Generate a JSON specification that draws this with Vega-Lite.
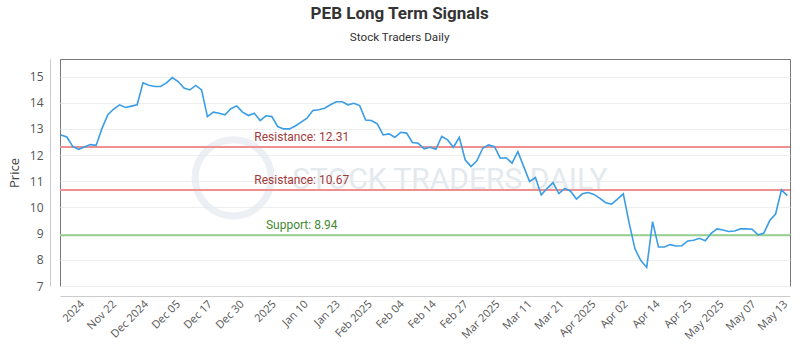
{
  "$schema": "https://vega.github.io/schema/vega-lite/v6.json",
  "width": 730,
  "height": 227,
  "autosize": {"type": "none"},
  "padding": {"left": 60, "top": 59, "right": 10, "bottom": 64},
  "title": {
    "text": "PEB Long Term Signals",
    "subtitle": "Stock Traders Daily",
    "anchor": "middle",
    "frame": "bounds",
    "font": "Roboto",
    "fontSize": 17,
    "fontWeight": "bold",
    "color": "#333333",
    "subtitleFont": "Roboto",
    "subtitleFontSize": 11.7,
    "subtitleColor": "#333333",
    "subtitlePadding": 9,
    "offset": 14
  },
  "datasets": {
    "prices": [
      {"i": 0, "price": 12.77}, {"i": 1, "price": 12.69}, {"i": 2, "price": 12.33}, {"i": 3, "price": 12.22},
      {"i": 4, "price": 12.31}, {"i": 5, "price": 12.40}, {"i": 6, "price": 12.37}, {"i": 7, "price": 13.02},
      {"i": 8, "price": 13.54}, {"i": 9, "price": 13.76}, {"i": 10, "price": 13.92}, {"i": 11, "price": 13.82},
      {"i": 12, "price": 13.87}, {"i": 13, "price": 13.92}, {"i": 14, "price": 14.76}, {"i": 15, "price": 14.67},
      {"i": 16, "price": 14.62}, {"i": 17, "price": 14.62}, {"i": 18, "price": 14.76}, {"i": 19, "price": 14.96},
      {"i": 20, "price": 14.81}, {"i": 21, "price": 14.56}, {"i": 22, "price": 14.49}, {"i": 23, "price": 14.66},
      {"i": 24, "price": 14.49}, {"i": 25, "price": 13.47}, {"i": 26, "price": 13.64}, {"i": 27, "price": 13.60},
      {"i": 28, "price": 13.54}, {"i": 29, "price": 13.77}, {"i": 30, "price": 13.88}, {"i": 31, "price": 13.64},
      {"i": 32, "price": 13.51}, {"i": 33, "price": 13.60}, {"i": 34, "price": 13.32}, {"i": 35, "price": 13.50},
      {"i": 36, "price": 13.47}, {"i": 37, "price": 13.09}, {"i": 38, "price": 13.00}, {"i": 39, "price": 13.00},
      {"i": 40, "price": 13.11}, {"i": 41, "price": 13.26}, {"i": 42, "price": 13.41}, {"i": 43, "price": 13.70},
      {"i": 44, "price": 13.73}, {"i": 45, "price": 13.79}, {"i": 46, "price": 13.92}, {"i": 47, "price": 14.04},
      {"i": 48, "price": 14.04}, {"i": 49, "price": 13.92}, {"i": 50, "price": 13.98}, {"i": 51, "price": 13.89},
      {"i": 52, "price": 13.34}, {"i": 53, "price": 13.32}, {"i": 54, "price": 13.19}, {"i": 55, "price": 12.77},
      {"i": 56, "price": 12.81}, {"i": 57, "price": 12.68}, {"i": 58, "price": 12.87}, {"i": 59, "price": 12.84},
      {"i": 60, "price": 12.48}, {"i": 61, "price": 12.45}, {"i": 62, "price": 12.24}, {"i": 63, "price": 12.30},
      {"i": 64, "price": 12.22}, {"i": 65, "price": 12.71}, {"i": 66, "price": 12.58}, {"i": 67, "price": 12.30},
      {"i": 68, "price": 12.68}, {"i": 69, "price": 11.82}, {"i": 70, "price": 11.56}, {"i": 71, "price": 11.78},
      {"i": 72, "price": 12.26}, {"i": 73, "price": 12.39}, {"i": 74, "price": 12.32}, {"i": 75, "price": 11.88},
      {"i": 76, "price": 11.90}, {"i": 77, "price": 11.69}, {"i": 78, "price": 12.13}, {"i": 79, "price": 11.56},
      {"i": 80, "price": 10.99}, {"i": 81, "price": 11.14}, {"i": 82, "price": 10.48}, {"i": 83, "price": 10.73},
      {"i": 84, "price": 10.95}, {"i": 85, "price": 10.53}, {"i": 86, "price": 10.73}, {"i": 87, "price": 10.62},
      {"i": 88, "price": 10.32}, {"i": 89, "price": 10.52}, {"i": 90, "price": 10.57}, {"i": 91, "price": 10.50},
      {"i": 92, "price": 10.35}, {"i": 93, "price": 10.18}, {"i": 94, "price": 10.13}, {"i": 95, "price": 10.32},
      {"i": 96, "price": 10.52}, {"i": 97, "price": 9.40}, {"i": 98, "price": 8.41}, {"i": 99, "price": 7.97},
      {"i": 100, "price": 7.71}, {"i": 101, "price": 9.46}, {"i": 102, "price": 8.49}, {"i": 103, "price": 8.49},
      {"i": 104, "price": 8.58}, {"i": 105, "price": 8.53}, {"i": 106, "price": 8.54}, {"i": 107, "price": 8.72},
      {"i": 108, "price": 8.75}, {"i": 109, "price": 8.82}, {"i": 110, "price": 8.73}, {"i": 111, "price": 9.01},
      {"i": 112, "price": 9.18}, {"i": 113, "price": 9.14}, {"i": 114, "price": 9.08}, {"i": 115, "price": 9.10},
      {"i": 116, "price": 9.18}, {"i": 117, "price": 9.18}, {"i": 118, "price": 9.17}, {"i": 119, "price": 8.95},
      {"i": 120, "price": 9.02}, {"i": 121, "price": 9.50}, {"i": 122, "price": 9.75}, {"i": 123, "price": 10.67},
      {"i": 124, "price": 10.45}
    ],
    "levels": [
      {"level": 12.31, "label": "Resistance: 12.31", "kind": "Resistance"},
      {"level": 10.67, "label": "Resistance: 10.67", "kind": "Resistance"},
      {"level": 8.94, "label": "Support: 8.94", "kind": "Support"}
    ],
    "watermark": [
      {"label": "STOCK TRADERS DAILY"}
    ]
  },
  "resolve": {"axis": {"x": "independent", "y": "independent"}},
  "layer": [
    {
      "data": {"name": "watermark"},
      "mark": {"type": "point", "shape": "circle", "filled": false, "size": 5800, "stroke": "#e4eaf0", "strokeWidth": 7},
      "encoding": {
        "x": {"datum": 29.4, "type": "quantitative", "axis": null},
        "y": {"datum": 11.13, "type": "quantitative", "axis": null}
      }
    },
    {
      "data": {"name": "watermark"},
      "mark": {"type": "text", "font": "Roboto", "fontSize": 30, "fill": "#e4e9ee", "align": "center", "baseline": "middle"},
      "encoding": {
        "x": {"datum": 66.4, "type": "quantitative", "axis": null},
        "y": {"datum": 11.05, "type": "quantitative", "axis": null},
        "text": {"field": "label"}
      }
    },
    {
      "data": {"name": "levels"},
      "mark": {"type": "rule", "strokeWidth": 2},
      "encoding": {
        "y": {"field": "level", "type": "quantitative", "axis": null},
        "stroke": {"field": "kind", "type": "nominal", "scale": {"domain": ["Resistance", "Support"], "range": ["#ef8f8f", "#97cf8f"]}, "legend": null}
      }
    },
    {
      "data": {"name": "levels"},
      "mark": {"type": "text", "font": "Roboto", "fontSize": 12, "align": "center", "baseline": "bottom", "dy": -3},
      "encoding": {
        "x": {"datum": 41.1, "type": "quantitative", "axis": null},
        "y": {"field": "level", "type": "quantitative", "axis": null},
        "text": {"field": "label"},
        "fill": {"field": "kind", "type": "nominal", "scale": {"domain": ["Resistance", "Support"], "range": ["#a33a3a", "#3f8a32"]}, "legend": null}
      }
    },
    {
      "data": {"name": "prices"},
      "mark": {"type": "line", "color": "#3a9de6", "strokeWidth": 1.6},
      "encoding": {
        "x": {
          "field": "i",
          "type": "quantitative",
          "scale": {"domain": [-0.17, 124.46], "nice": false, "zero": false},
          "axis": {
            "title": null,
            "values": [2.92, 8.38, 13.84, 19.29, 24.75, 30.21, 35.67, 41.13, 46.58, 52.04, 57.5, 62.96, 68.42, 73.87, 79.33, 84.79, 90.25, 95.71, 101.17, 106.62, 112.08, 117.54, 123.0],
            "labelExpr": "['2024','Nov 22','Dec 2024','Dec 05','Dec 17','Dec 30','2025','Jan 10','Jan 23','Feb 2025','Feb 04','Feb 14','Feb 27','Mar 2025','Mar 11','Mar 21','Apr 2025','Apr 02','Apr 14','Apr 25','May 2025','May 07','May 13'][round((datum.value - 2.92) / 5.458)]",
            "labelAngle": -45,
            "grid": false,
            "ticks": false,
            "offset": 10,
            "domainColor": "#cccccc",
            "labelColor": "#555555",
            "labelFont": "Open Sans",
            "labelFontSize": 11,
            "labelPadding": 2,
            "labelOverlap": false,
            "labelBound": false,
            "labelFlush": false
          }
        },
        "y": {
          "field": "price",
          "type": "quantitative",
          "scale": {"domain": [7, 15.67], "nice": false, "zero": false},
          "axis": {
            "title": "Price",
            "values": [7, 8, 9, 10, 11, 12, 13, 14, 15],
            "grid": true,
            "gridColor": "#eeeeee",
            "ticks": false,
            "offset": 10,
            "domainColor": "#cccccc",
            "labelColor": "#555555",
            "labelFont": "Open Sans",
            "labelFontSize": 12,
            "labelPadding": 7,
            "labelOverlap": false,
            "titleFont": "Open Sans",
            "titleFontSize": 13,
            "titleFontWeight": "normal",
            "titleColor": "#444444",
            "titlePadding": 8
          }
        }
      }
    }
  ],
  "config": {
    "view": {"stroke": "#777777", "strokeWidth": 1},
    "font": "Open Sans",
    "axis": {"labelOverlap": false}
  }
}
